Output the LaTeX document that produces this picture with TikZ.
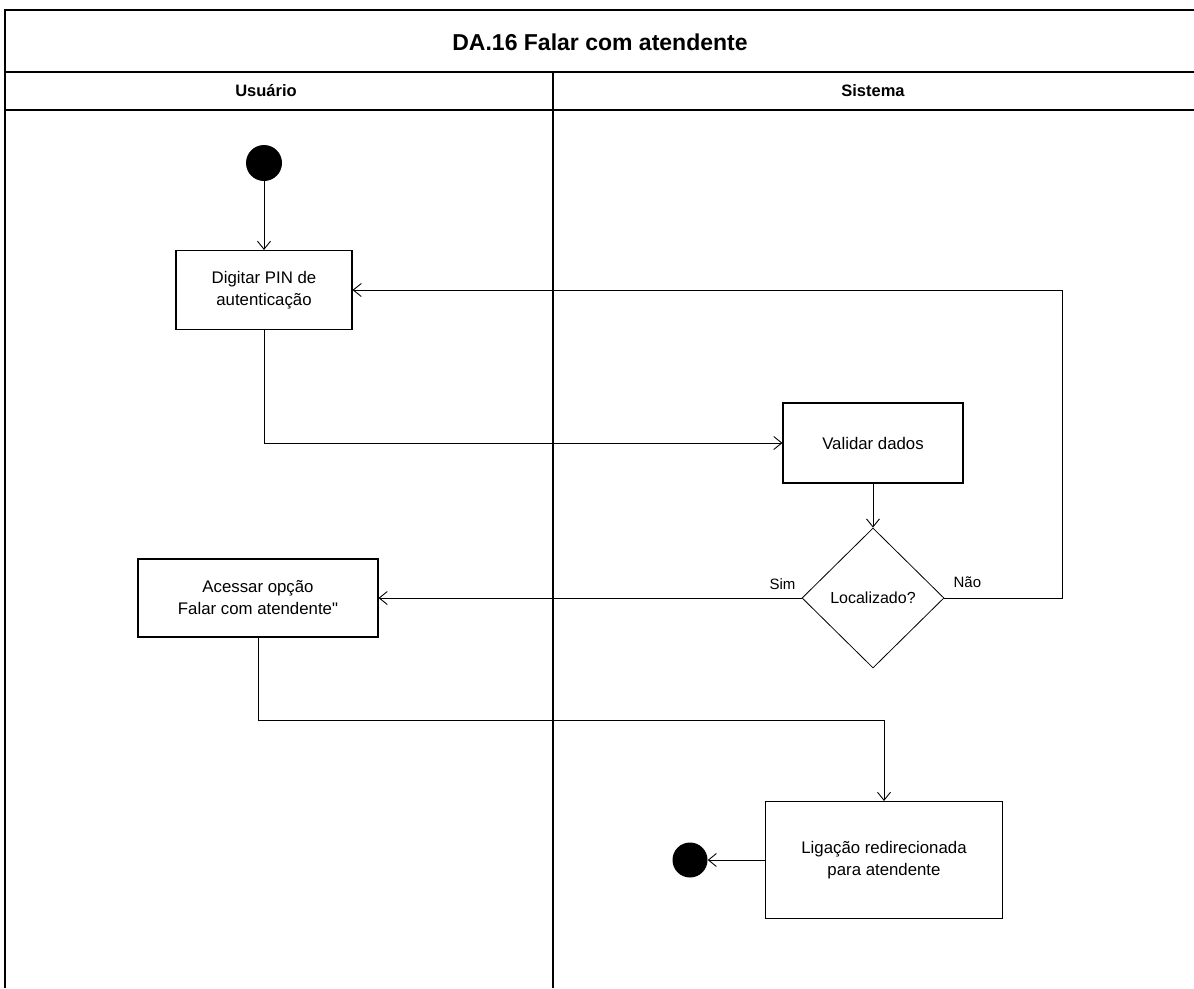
\documentclass[tikz,border=0pt]{standalone}
\usepackage{fontspec}
\setmainfont{Liberation Sans}
\usetikzlibrary{shapes.geometric,arrows.meta,positioning}

\begin{document}
\begin{tikzpicture}[x=1pt, y=-1pt,
    >={Straight Barb[length=8pt,width=13pt]},
    raia/.style={line width=1.4pt},
    acao/.style={rectangle, draw, line width=1.1pt, align=center, font=\fontsize{16.8}{22}\selectfont},
    decisao/.style={diamond, draw, line width=0.8pt, minimum width=142pt, minimum height=140pt, inner sep=0pt, font=\fontsize{16}{19}\selectfont},
    inicio/.style={circle, fill=black, minimum size=36pt, inner sep=0pt},
    fluxo/.style={->, line width=0.9pt},
    rotulo/.style={font=\fontsize{15}{18}\selectfont, inner sep=1pt}]

    \useasboundingbox (0,0) rectangle (1194,988);

    % raias
    \draw[raia] (1194,10) -- (5,10) -- (5,988);
    \draw[raia] (5,72) -- (1194,72);
    \draw[raia] (5,110) -- (1194,110);
    \draw[raia] (553,72) -- (553,988);

    \node[font=\bfseries\fontsize{23}{27}\selectfont] (titulo) at (600,42) {DA.16 Falar com atendente};
    \node[font=\bfseries\fontsize{16.5}{20}\selectfont] (usuario) at (266,91) {Usuário};
    \node[font=\bfseries\fontsize{16.5}{20}\selectfont] (sistema) at (873,91) {Sistema};

    \node[inicio] (ini) at (264,163) {};
    \node[acao, minimum width=176pt, minimum height=79pt] (pin) at (264,290) {Digitar PIN de\\autenticação};
    \node[acao, minimum width=180pt, minimum height=80pt] (validar) at (873,443) {Validar dados};
    \node[decisao] (local) at (873,598) {Localizado?};
    \node[acao, minimum width=240pt, minimum height=78pt] (acessar) at (258,598) {Acessar opção\\Falar com atendente\textquotedbl};
    \node[acao, minimum width=237pt, minimum height=117pt] (ligacao) at (884,860) {Ligação redirecionada\\para atendente};
    \node[inicio, minimum size=35pt] (fim) at (690,860) {};

    \node[rotulo, above left=7pt and 5pt of local.west] (sim) {Sim};
    \node[rotulo, above right=9pt and 8pt of local.east] (nao) {Não};

    \coordinate (canto) at (1062,598);
    \coordinate (desvio) at (258,720);

    \draw[fluxo] (ini) -- (pin);
    \draw[fluxo] (pin.south) |- (validar.west);
    \draw[fluxo] (validar) -- (local);
    \draw[fluxo] (local.west) -- (acessar.east);
    \draw[fluxo] (local.east) -- (canto) |- (pin.east);
    \draw[fluxo] (acessar.south) -- (desvio) -| (ligacao.north);
    \draw[fluxo] (ligacao) -- (fim);
\end{tikzpicture}
\end{document}
